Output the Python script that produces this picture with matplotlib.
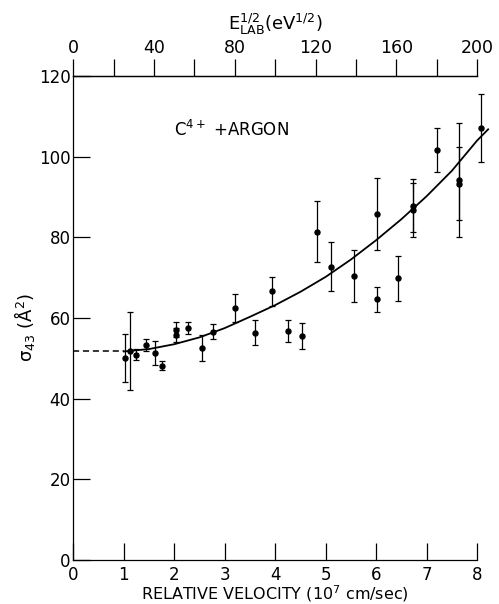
import numpy as np
import matplotlib.pyplot as plt

# measured cross sections vs relative velocity (10^7 cm/sec)
vel = [1.02, 1.13, 1.25, 1.43, 1.61, 1.76, 2.03, 2.03, 2.28, 2.54, 2.77, 3.21, 3.60, 3.93,
       4.25, 4.54, 4.83, 5.10, 5.57, 6.01, 6.01, 6.43, 6.74, 6.74, 7.21, 7.64, 7.64, 8.07]
sigma = [50.1, 51.8, 50.9, 53.3, 51.4, 48.2, 57.1, 55.8, 57.5, 52.6, 56.6, 62.5, 56.4, 66.6,
         56.7, 55.5, 81.4, 72.7, 70.4, 64.7, 85.8, 69.8, 87.9, 86.9, 101.6, 94.3, 93.3, 107.2]
err = [5.9, 9.7, 1.3, 1.5, 3.0, 1.2, 1.8, 1.8, 1.5, 3.2, 1.8, 3.5, 3.0, 3.5,
       2.7, 3.2, 7.6, 6.1, 6.5, 3.1, 8.9, 5.5, 6.6, 6.7, 5.5, 14.1, 9.0, 8.4]

# smooth curve through the data, dashed extrapolation to zero velocity
curve_v = [1.0, 1.5, 2.0, 2.5, 3.0, 3.5, 4.0, 4.5, 5.0, 5.5, 6.0, 6.5, 7.0, 7.5, 8.0, 8.22]
curve_s = [51.7, 52.3, 53.5, 55.2, 57.5, 60.3, 63.2, 66.5, 70.2, 74.5, 79.3, 84.5, 90.2, 96.5, 104.0, 106.8]
dash_v = [0.0, 1.0]
dash_s = [51.7, 51.7]

plt.rcParams['font.family'] = 'DejaVu Sans'
plt.rcParams['mathtext.default'] = 'regular'

fig = plt.figure(figsize=(4.99, 6.04), dpi=100)
ax = fig.add_axes([0.147, 0.073, 0.809, 0.801])

ax.errorbar(vel, sigma, yerr=err, fmt='o', color='black', ms=3.6, elinewidth=0.9,
            capsize=2, capthick=0.9, clip_on=False)
ax.plot(curve_v, curve_s, color='black', lw=1.3, clip_on=False)
ax.plot(dash_v, dash_s, color='black', lw=1.1, ls=(0, (4, 2.5)))

ax.set_xlim(0, 8)
ax.set_ylim(0, 120)
ax.set_xticks(range(0, 9))
ax.set_xticklabels(['0', '1', '2', '3', '4', '5', '6', '7', '8'])
ax.set_yticks(range(0, 121, 20))

ax.spines['right'].set_visible(False)
for s in ['left', 'bottom', 'top']:
    ax.spines[s].set_linewidth(0.9)

ax.tick_params(axis='x', direction='in', length=12, width=0.9, pad=4.5, labelsize=12)
ax.tick_params(axis='y', direction='in', length=12, width=0.9, pad=2, labelsize=12)

# energy scale along the top
top = ax.secondary_xaxis('top', functions=(lambda v: v * 25, lambda e: e / 25))
top.set_xticks(range(0, 201, 20))
top.set_xticklabels([str(t) if t % 40 == 0 else '' for t in range(0, 201, 20)])
top.tick_params(direction='out', length=12, width=0.9, pad=1.5, labelsize=12.5)
top.spines['top'].set_linewidth(0.9)
top.set_xlabel(r'$E_{LAB}^{1/2}(eV^{1/2})$', fontsize=13, labelpad=7)

ax.set_xlabel(r'RELATIVE VELOCITY (10$^{7}$ cm/sec)', fontsize=11.5, labelpad=-0.5)
ax.set_ylabel(r'$\sigma_{43}$ (Å$^{2}$)', fontsize=13)
ax.yaxis.set_label_coords(-0.09, 0.48)

ax.text(2.0, 106.7, r'C$^{4+}$ +ARGON', fontsize=12, ha='left', va='center')

fig.savefig('out.png', dpi=100)
